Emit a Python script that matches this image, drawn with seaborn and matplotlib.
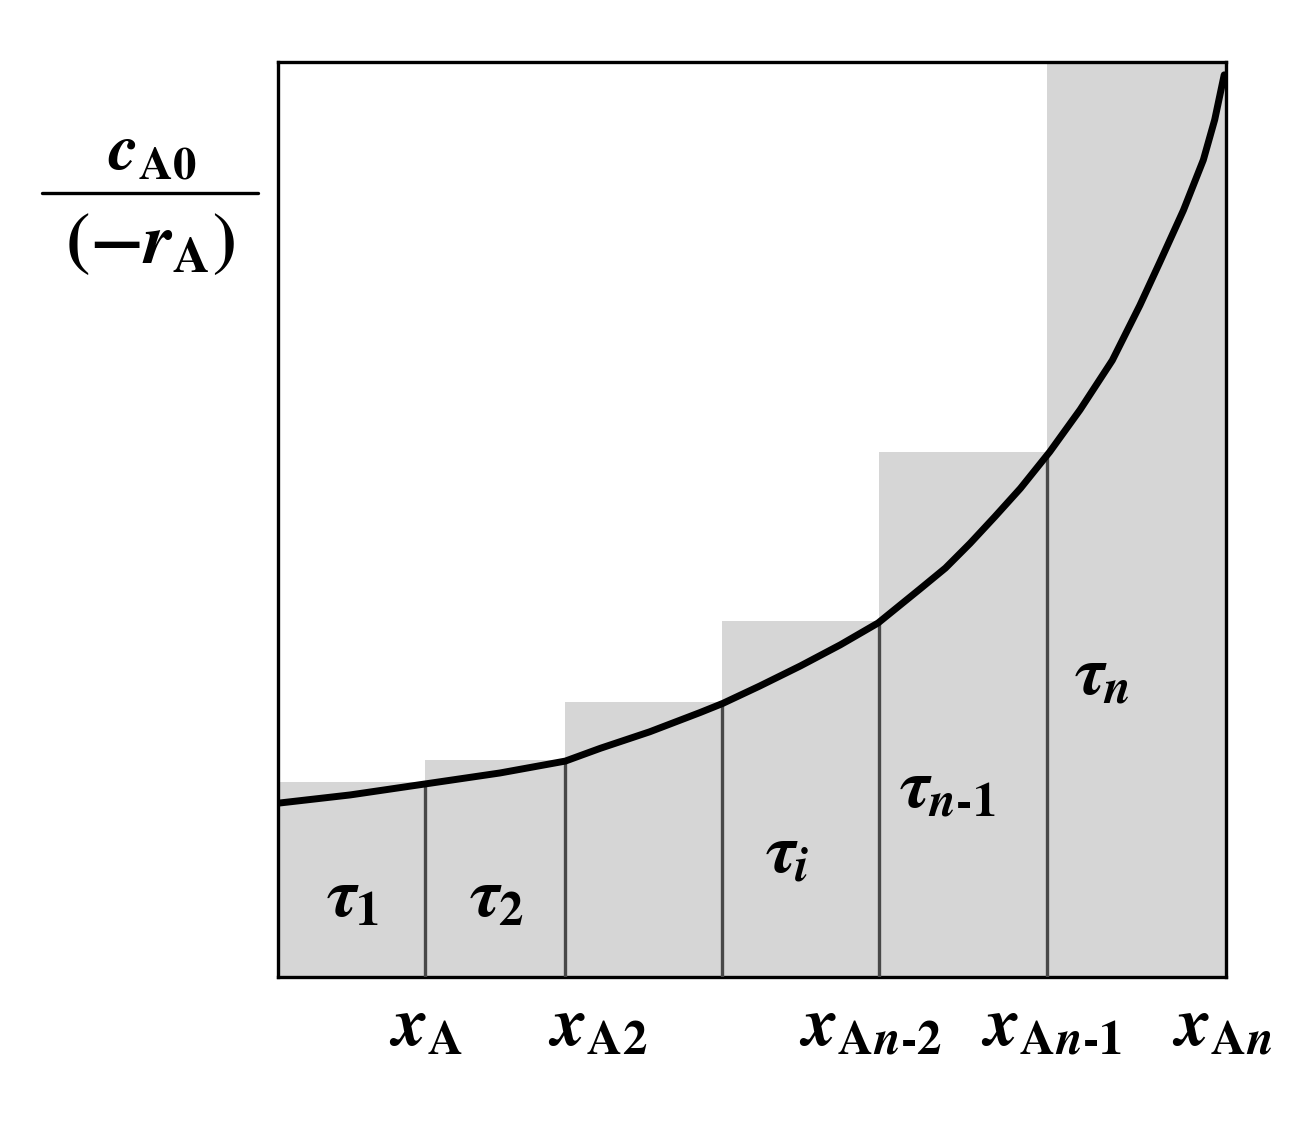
import numpy as np
import matplotlib
matplotlib.use("Agg")
import matplotlib.pyplot as plt
import seaborn as sns
from matplotlib.lines import Line2D

# conversion axis (normalised) and bar heights
edges = [0.0, 0.155, 0.303, 0.468, 0.634, 0.811, 1.0]
bar_heights = [0.213, 0.237, 0.301, 0.389, 0.574, 1.0]

# points read along the curve cA0/(-rA)
curve_x = [0.0, 0.076, 0.155, 0.234, 0.303, 0.340, 0.392, 0.445, 0.469, 0.508,
           0.551, 0.593, 0.633, 0.677, 0.704, 0.730, 0.756, 0.783, 0.814, 0.846,
           0.880, 0.909, 0.930, 0.955, 0.976, 0.988, 0.998]
curve_y = [0.190, 0.199, 0.211, 0.223, 0.236, 0.250, 0.268, 0.289, 0.299, 0.318,
           0.340, 0.363, 0.387, 0.424, 0.447, 0.474, 0.503, 0.534, 0.574, 0.620,
           0.674, 0.734, 0.781, 0.838, 0.893, 0.937, 0.986]

# divider lines run up to the curve at each inner edge
divider_tops = [0.211, 0.236, 0.299, 0.387, 0.574]

tau_labels = [r"$\boldsymbol{\tau}_{\mathbf{1}}$", r"$\boldsymbol{\tau}_{\mathbf{2}}$",
              r"$\boldsymbol{\tau}_{\boldsymbol{i}}$",
              "$\\boldsymbol{\\tau}_{\\boldsymbol{n}\\mathbf{\u2010 1}}$",
              r"$\boldsymbol{\tau}_{\boldsymbol{n}}$"]
tau_pos = [(0.079, 0.084), (0.231, 0.084), (0.537, 0.133), (0.706, 0.204), (0.869, 0.327)]

x_labels = [r"$\boldsymbol{x}_{\mathbf{A}}$", r"$\boldsymbol{x}_{\mathbf{A2}}$",
            "$\\boldsymbol{x}_{\\mathbf{A}\\boldsymbol{n}\\mathbf{\u2010 2}}$",
            "$\\boldsymbol{x}_{\\mathbf{A}\\boldsymbol{n}\\mathbf{\u2010 1}}$",
            r"$\boldsymbol{x}_{\mathbf{A}\boldsymbol{n}}$"]
x_label_left = [0.117, 0.285, 0.549, 0.741, 0.943]

sns.set_style("white")
plt.rcParams['font.family'] = ['Liberation Serif', 'DejaVu Serif']
plt.rcParams['mathtext.fontset'] = 'stix'
plt.rcParams['text.color'] = 'black'

fig = plt.figure(figsize=(13.14, 11.26), dpi=100)
ax = fig.add_axes([0.2116, 0.1323, 0.7215, 0.8126])

mids = (np.array(edges[:-1]) + np.array(edges[1:])) / 2
sns.histplot(x=mids, weights=bar_heights, bins=edges, color="#d6d6d6",
             alpha=1, linewidth=0, ax=ax)

ax.vlines(edges[1:-1], 0, divider_tops, color="#484848", lw=2.4, zorder=3)

sns.lineplot(x=curve_x, y=curve_y, color="black", lw=5, sort=False, ax=ax,
             zorder=4)
ax.lines[-1].set_solid_capstyle("round")
ax.lines[-1].set_solid_joinstyle("round")

ax.set_xlim(0, 1)
ax.set_ylim(0, 1)
ax.set_xticks([])
ax.set_yticks([])
ax.set_xlabel("")
ax.set_ylabel("")
for s in ax.spines.values():
    s.set_color("black")
    s.set_linewidth(2.4)
    s.set_visible(True)

for lab, (tx, ty) in zip(tau_labels, tau_pos):
    ax.text(tx, ty, lab, fontsize=50, ha="center", va="center", zorder=5,
            color="black")

for lab, lx in zip(x_labels, x_label_left):
    ax.text(lx, -0.022, lab, fontsize=50, ha="left", va="top", clip_on=False,
            color="black")

# y-axis label drawn as a fraction
fig.text(0.116, 0.863, r"$\boldsymbol{c}_{\mathbf{A0}}$", fontsize=48,
         ha="center", va="center", color="black")
fig.add_artist(Line2D([0.032, 0.196], [0.829, 0.829], color="black", lw=2.4))
fig.text(0.114, 0.782, r"$\mathbf{(-}\boldsymbol{r}_{\mathbf{A}}\mathbf{)}$",
         fontsize=52, ha="center", va="center", color="black")

fig.savefig("out.png", dpi=100, facecolor="white")
